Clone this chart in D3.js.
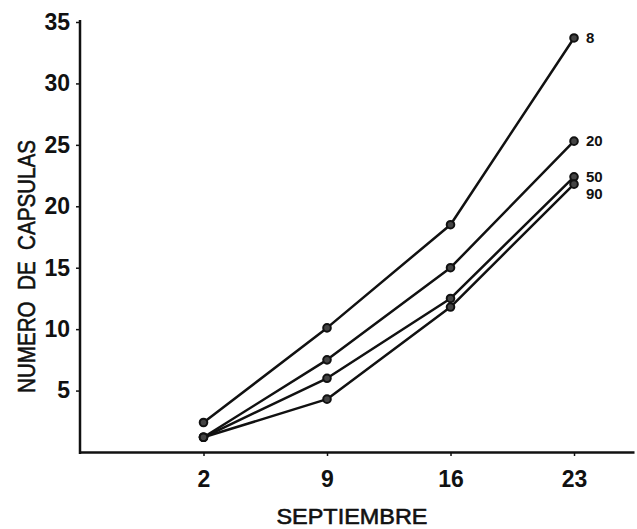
<!DOCTYPE html>
<html>
<head>
<meta charset="utf-8">
<script src="https://cdn.jsdelivr.net/npm/d3@7"></script>
<style>
  html, body { margin: 0; padding: 0; background: #fff; }
  svg { display: block; }
</style>
</head>
<body>
<div id="chart"></div>
<script>
// capsule counts per sampling date, one line per series

const days = [2, 9, 16, 23];
const seriesNames = ["8", "20", "50", "90"];
const vals8  = [2.4, 10.1, 18.5, 33.7];
const vals20 = [1.2, 7.5, 15.0, 25.3];
const vals50 = [1.2, 6.0, 12.5, 22.4];
const vals90 = [1.2, 4.3, 11.8, 21.8];
const yTicks = [5, 10, 15, 20, 25, 30, 35];

const series = [vals8, vals20, vals50, vals90].map((v, i) => ({
  name: seriesNames[i],
  pts: days.map((d, j) => ({ day: d, v: v[j] }))
}));

const W = 637, H = 529;
const ink = "#111";
const digitFont = "'Liberation Sans', Arial, sans-serif";
const textFont = "'Liberation Sans', Arial, sans-serif";

const svg = d3.select("#chart").append("svg")
  .attr("width", W)
  .attr("height", H);

const x = d3.scaleLinear().domain([-5, 26.4]).range([80, 634]);
const y = d3.scaleLinear().domain([0, 35]).range([452, 22]);

// axes, drawn by d3 then restyled
const yAxis = svg.append("g")
  .attr("transform", `translate(${x(-5)},0)`)
  .call(d3.axisLeft(y).tickValues(yTicks).tickSize(4).tickPadding(6).tickSizeOuter(0));

yAxis.select(".domain").attr("stroke", ink).attr("stroke-width", 2.5)
  .attr("d", `M0,${y(35) - 2}V${y(0) + 2}`);

const xAxis = svg.append("g")
  .attr("transform", `translate(0,${y(0)})`)
  .call(d3.axisBottom(x).tickValues(days).tickSize(4).tickPadding(15).tickSizeOuter(0));

xAxis.select(".domain").attr("stroke", ink).attr("stroke-width", 2.5);

svg.selectAll(".tick line").attr("stroke", ink).attr("stroke-width", 1.5);
svg.selectAll(".tick text")
  .attr("fill", ink)
  .attr("font-family", digitFont)
  .attr("font-weight", "bold")
  .attr("font-size", 23);

// axis titles, a thin stroke makes them look like the scanned lettering
svg.append("text")
  .attr("transform", `translate(35,${(140 + 393) / 2}) rotate(-90)`)
  .attr("text-anchor", "middle")
  .attr("font-family", textFont)
  .attr("font-size", 24)
  .attr("fill", ink)
  .attr("stroke", ink)
  .attr("stroke-width", 0.6)
  .attr("textLength", 253)
  .attr("lengthAdjust", "spacingAndGlyphs")
  .attr("xml:space", "preserve")
  .text("NUMERO  DE  CAPSULAS");

svg.append("text")
  .attr("x", 352)
  .attr("y", 524)
  .attr("text-anchor", "middle")
  .attr("font-family", textFont)
  .attr("font-size", 22)
  .attr("fill", ink)
  .attr("stroke", ink)
  .attr("stroke-width", 0.6)
  .attr("textLength", 151)
  .attr("lengthAdjust", "spacingAndGlyphs")
  .text("SEPTIEMBRE");

// lines
const line = d3.line().x(d => x(d.day)).y(d => y(d.v));

const g = svg.append("g");

g.selectAll("path.series")
  .data(series)
  .join("path")
  .attr("class", "series")
  .attr("d", d => line(d.pts))
  .attr("fill", "none")
  .attr("stroke", ink)
  .attr("stroke-width", 2.5)
  .attr("stroke-linejoin", "round");

// markers, dark dots with a faint centre
g.selectAll("g.pts")
  .data(series)
  .join("g")
  .attr("class", "pts")
  .selectAll("circle")
  .data(d => d.pts)
  .join("circle")
  .attr("cx", d => x(d.day))
  .attr("cy", d => y(d.v))
  .attr("r", 3.8)
  .attr("fill", "#444")
  .attr("stroke", ink)
  .attr("stroke-width", 2);

// end labels, 90 is pushed under 50 so they dont collide
const nudge = { "90": 10 };
g.selectAll("text.lab")
  .data(series)
  .join("text")
  .attr("class", "lab")
  .attr("x", d => x(23) + 12)
  .attr("y", d => y(d.pts[3].v) + 5 + (nudge[d.name] || 0))
  .attr("font-family", digitFont)
  .attr("font-weight", "bold")
  .attr("font-size", 15)
  .attr("fill", ink)
  .text(d => d.name);
</script>
</body>
</html>
